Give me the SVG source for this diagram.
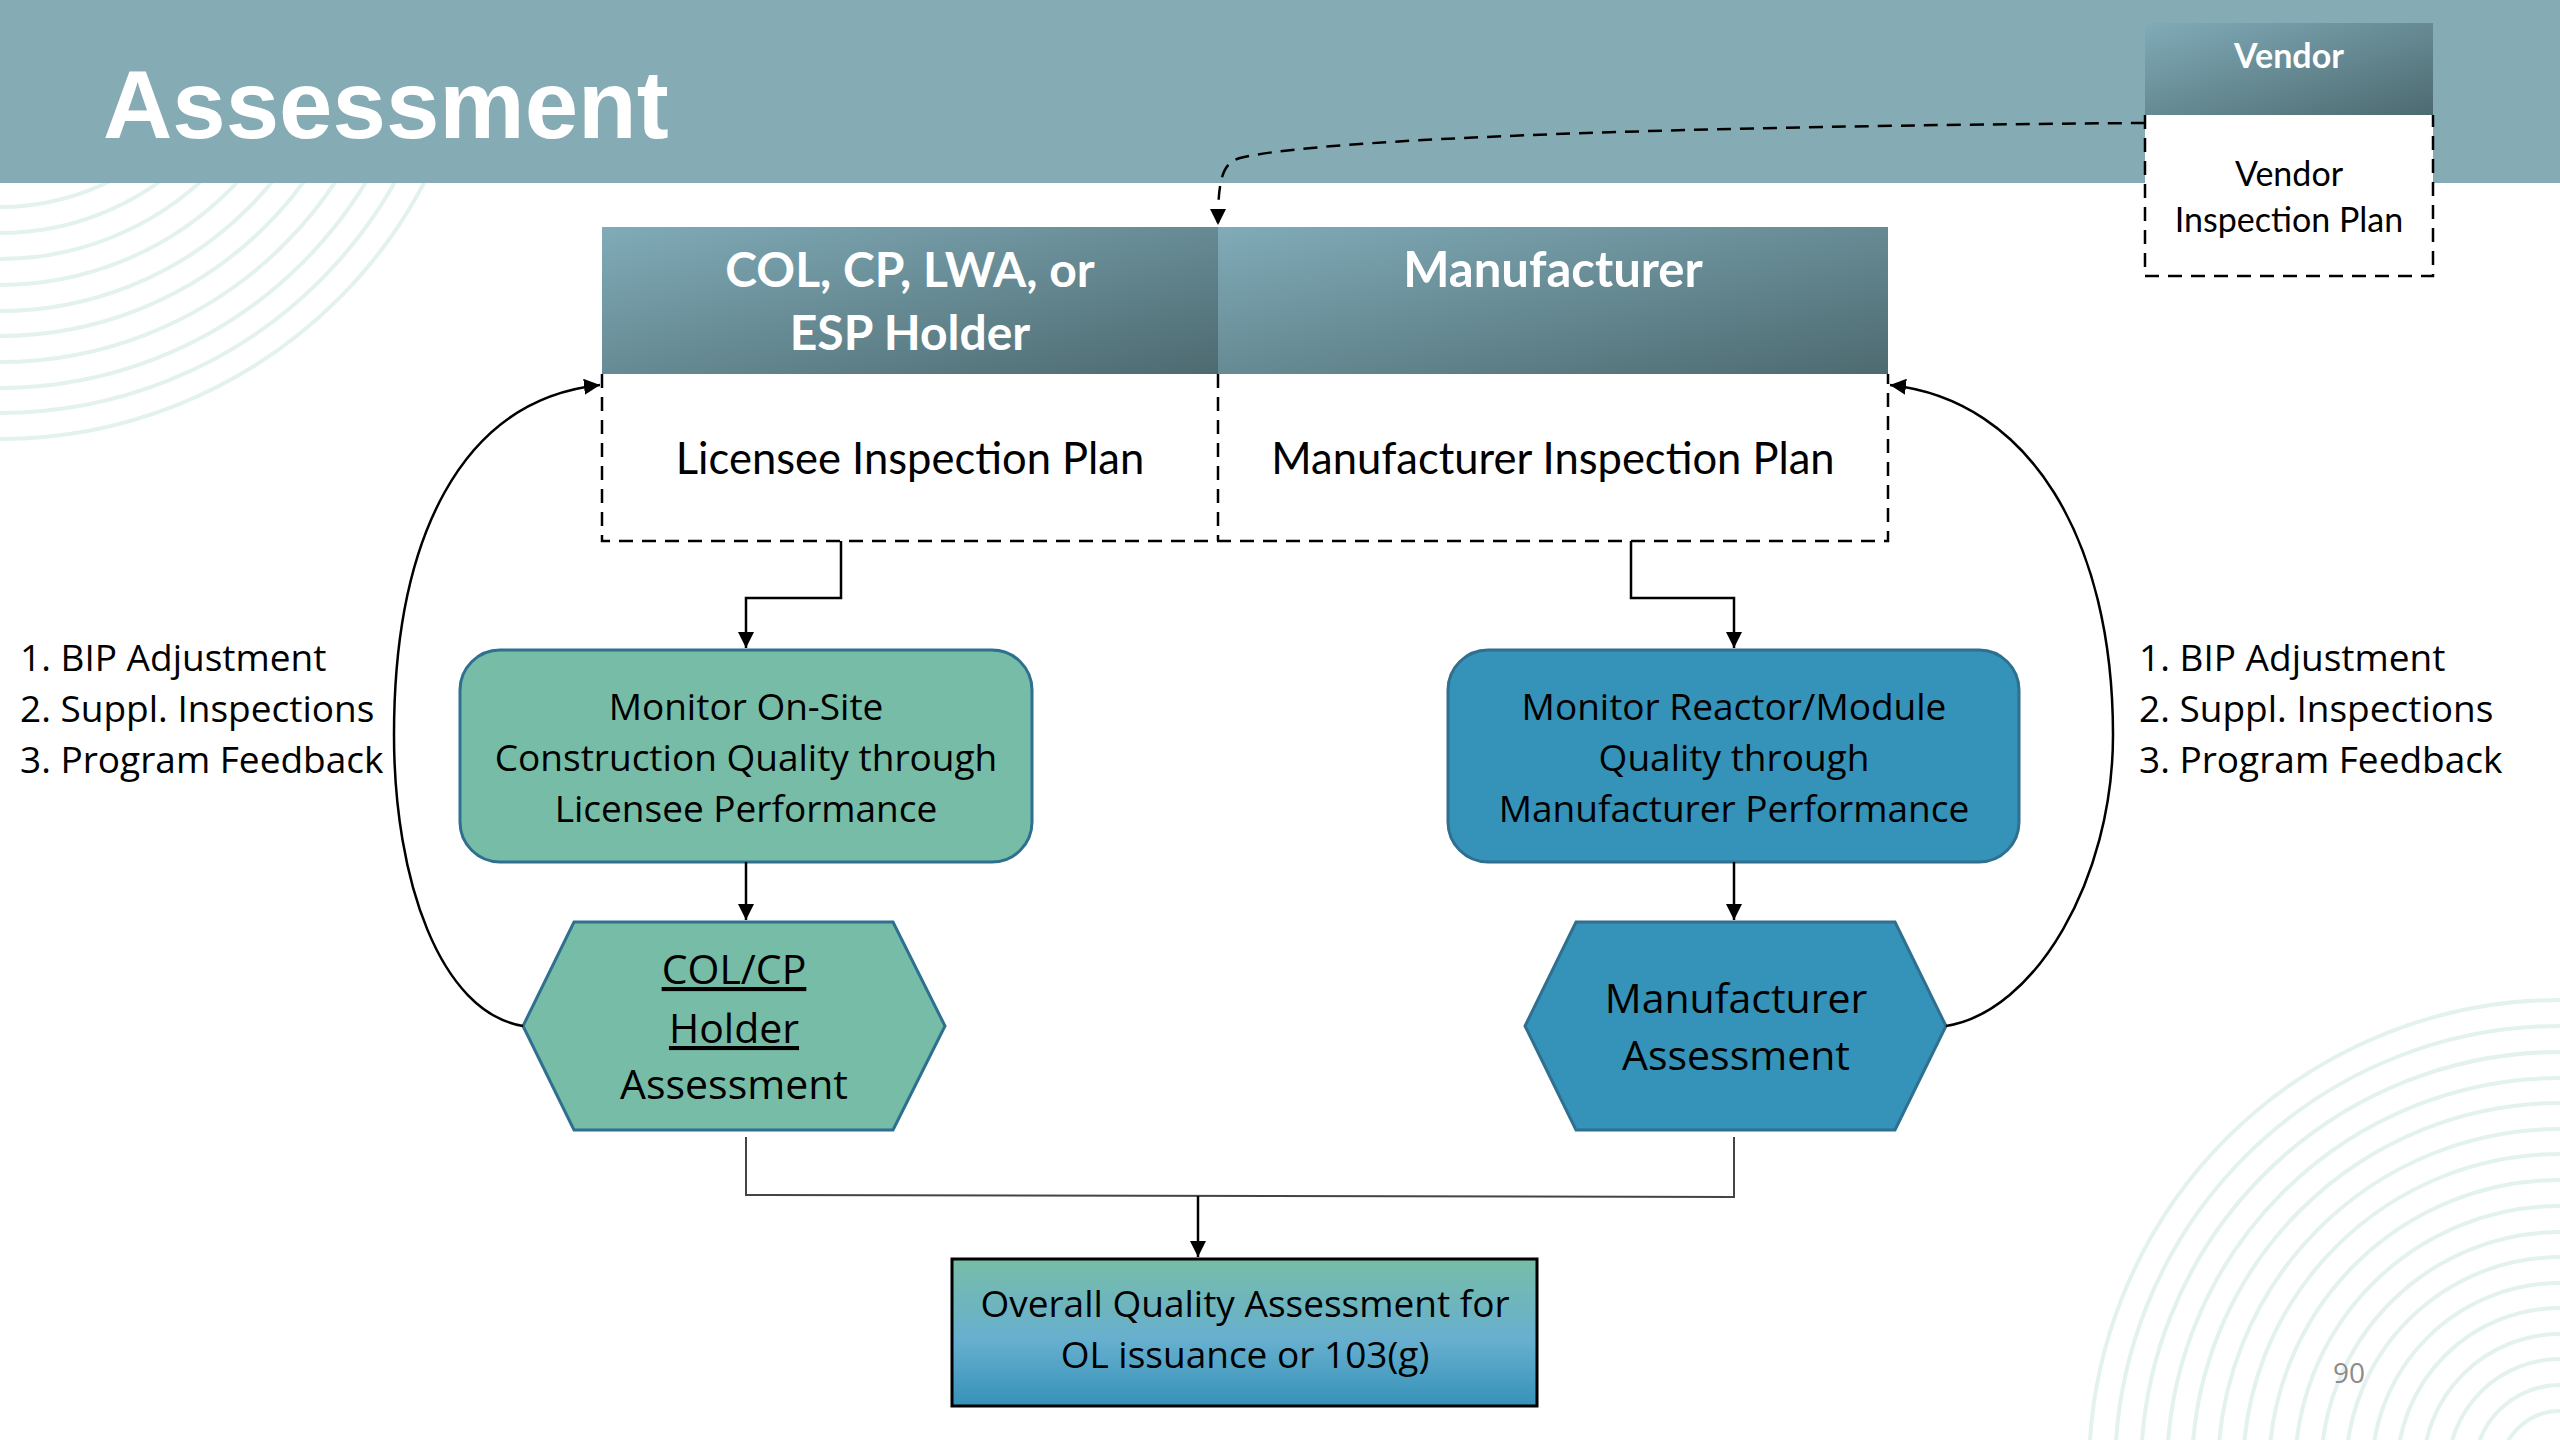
<svg xmlns="http://www.w3.org/2000/svg" width="2560" height="1440" viewBox="0 0 2560 1440">
<defs>
<style>
.arc{fill:none;stroke:#e3f2ee;stroke-width:4}
.hdr{font-family:Lato,"Open Sans",sans-serif;font-weight:700;fill:#ffffff;text-anchor:middle}
.plan{font-family:Lato,"Open Sans",sans-serif;fill:#000;text-anchor:middle}
.body{font-family:"Open Sans","Noto Sans",sans-serif;fill:#000}
.c{text-anchor:middle}
.dash{fill:none;stroke:#000;stroke-width:2.5;stroke-dasharray:14 9}
.conn{fill:none;stroke:#000;stroke-width:2.5}
.merge{fill:none;stroke:#444;stroke-width:2}
.green{fill:#76bca6;stroke:#2f6f8f;stroke-width:3}
.blue{fill:#3592b8;stroke:#2f6f8f;stroke-width:3}
</style>
<linearGradient id="hg" x1="0" y1="0" x2="1" y2="1">
<stop offset="0" stop-color="#80abb8"/>
<stop offset="1" stop-color="#4d6a70"/>
</linearGradient>
<linearGradient id="og" x1="0" y1="0" x2="0" y2="1">
<stop offset="0" stop-color="#77bda8"/>
<stop offset="0.55" stop-color="#67afcf"/>
<stop offset="1" stop-color="#3592b8"/>
</linearGradient>
<marker id="ah" viewBox="0 0 10 10" refX="10" refY="5" markerWidth="16" markerHeight="16" markerUnits="userSpaceOnUse" orient="auto">
<path d="M0,0 L10,5 L0,10 z" fill="#000"/>
</marker>
</defs>
<rect x="0" y="0" width="2560" height="1440" fill="#ffffff"/>
<g id="background-arcs">
<circle class="arc" cx="0" cy="-40" r="247"/>
<circle class="arc" cx="0" cy="-40" r="273"/>
<circle class="arc" cx="0" cy="-40" r="299"/>
<circle class="arc" cx="0" cy="-40" r="325"/>
<circle class="arc" cx="0" cy="-40" r="351"/>
<circle class="arc" cx="0" cy="-40" r="376"/>
<circle class="arc" cx="0" cy="-40" r="402"/>
<circle class="arc" cx="0" cy="-40" r="428"/>
<circle class="arc" cx="0" cy="-40" r="453"/>
<circle class="arc" cx="0" cy="-40" r="479"/>
<circle class="arc" cx="2560" cy="1471" r="471"/>
<circle class="arc" cx="2560" cy="1471" r="445"/>
<circle class="arc" cx="2560" cy="1471" r="419"/>
<circle class="arc" cx="2560" cy="1471" r="393"/>
<circle class="arc" cx="2560" cy="1471" r="368"/>
<circle class="arc" cx="2560" cy="1471" r="342"/>
<circle class="arc" cx="2560" cy="1471" r="317"/>
<circle class="arc" cx="2560" cy="1471" r="291"/>
<circle class="arc" cx="2560" cy="1471" r="265"/>
<circle class="arc" cx="2560" cy="1471" r="239"/>
<circle class="arc" cx="2560" cy="1471" r="214"/>
<circle class="arc" cx="2560" cy="1471" r="188"/>
<circle class="arc" cx="2560" cy="1471" r="163"/>
<circle class="arc" cx="2560" cy="1471" r="137"/>
<circle class="arc" cx="2560" cy="1471" r="112"/>
<circle class="arc" cx="2560" cy="1471" r="86"/>
<circle class="arc" cx="2560" cy="1471" r="60"/>
</g>
<rect id="title-band" x="0" y="0" width="2560" height="183" fill="#85abb5"/>
<text x="103" y="138" font-family="'Liberation Sans',Arial,sans-serif" font-weight="700" font-size="96" fill="#ffffff">Assessment</text>

<g id="node-licensee">
<rect x="602" y="227" width="616" height="147" fill="url(#hg)"/>
<text class="hdr" x="910" y="287" font-size="48">COL, CP, LWA, or</text>
<text class="hdr" x="910" y="350" font-size="48">ESP Holder</text>
<text class="plan" x="910" y="474" font-size="43.5">Licensee Inspection Plan</text>
</g>
<g id="node-manufacturer">
<rect x="1218" y="227" width="670" height="147" fill="url(#hg)"/>
<text class="hdr" x="1553" y="287" font-size="49">Manufacturer</text>
<text class="plan" x="1553" y="474" font-size="43.5">Manufacturer Inspection Plan</text>
</g>
<path id="plan-outline" class="dash" d="M602 374 V541 H1888 V374 M1218 374 V541"/>

<g id="node-vendor">
<rect x="2145" y="23" width="288" height="92" fill="url(#hg)"/>
<rect x="2145" y="115" width="288" height="161" fill="#ffffff"/>
<path class="dash" d="M2145 115 V276 H2433 V115"/>
<text class="hdr" x="2289" y="68" font-size="34">Vendor</text>
<text class="plan" x="2289" y="186" font-size="34">Vendor</text>
<text class="plan" x="2289" y="232" font-size="34">Inspection Plan</text>
</g>

<g id="node-monitor-onsite">
<rect class="green" x="460" y="650" width="572" height="212" rx="40" ry="40"/>
<text class="body c" x="746" y="720" font-size="37">Monitor On-Site</text>
<text class="body c" x="746" y="771" font-size="37">Construction Quality through</text>
<text class="body c" x="746" y="822" font-size="37">Licensee Performance</text>
</g>
<g id="node-monitor-reactor">
<rect class="blue" x="1448" y="650" width="571" height="212" rx="40" ry="40"/>
<text class="body c" x="1734" y="720" font-size="37">Monitor Reactor/Module</text>
<text class="body c" x="1734" y="771" font-size="37">Quality through</text>
<text class="body c" x="1734" y="822" font-size="37">Manufacturer Performance</text>
</g>
<g id="node-colcp-assessment">
<polygon class="green" points="574,922 893,922 945,1026 893,1130 574,1130 523,1026"/>
<text class="body c" x="734" y="984" font-size="41" text-decoration="underline">COL/CP</text>
<text class="body c" x="734" y="1043" font-size="41" text-decoration="underline">Holder</text>
<text class="body c" x="734" y="1099" font-size="41">Assessment</text>
</g>
<g id="node-manufacturer-assessment">
<polygon class="blue" points="1576,922 1895,922 1946,1026 1895,1130 1576,1130 1525,1026"/>
<text class="body c" x="1736" y="1013" font-size="41">Manufacturer</text>
<text class="body c" x="1736" y="1070" font-size="41">Assessment</text>
</g>
<g id="node-overall">
<rect x="952" y="1259" width="585" height="147" fill="url(#og)" stroke="#000" stroke-width="3"/>
<text class="body c" x="1245" y="1317" font-size="37">Overall Quality Assessment for</text>
<text class="body c" x="1245" y="1368" font-size="37">OL issuance or 103(g)</text>
</g>
<g id="label-left">
<text class="body" x="20" y="671" font-size="37">1. BIP Adjustment</text>
<text class="body" x="20" y="722" font-size="37">2. Suppl. Inspections</text>
<text class="body" x="20" y="773" font-size="37">3. Program Feedback</text>
</g>
<g id="label-right">
<text class="body" x="2139" y="671" font-size="37">1. BIP Adjustment</text>
<text class="body" x="2139" y="722" font-size="37">2. Suppl. Inspections</text>
<text class="body" x="2139" y="773" font-size="37">3. Program Feedback</text>
</g>
<text id="page-number" x="2333" y="1383" font-family="'Open Sans',sans-serif" font-size="28" fill="#8c8c8c">90</text>

<g id="connectors">
<path class="dash" d="M2145 123 C1700 126, 1320 138, 1240 158 C1222 163, 1218 180, 1218 225" marker-end="url(#ah)"/>
<path class="conn" d="M841 541 V598 H746 V648" marker-end="url(#ah)"/>
<path class="conn" d="M1631 541 V598 H1734 V648" marker-end="url(#ah)"/>
<path class="conn" d="M746 862 V920" marker-end="url(#ah)"/>
<path class="conn" d="M1734 862 V920" marker-end="url(#ah)"/>
<path class="conn" d="M523 1026 C440 1012, 394 880, 394 735 C394 540, 460 400, 600 385" marker-end="url(#ah)"/>
<path class="conn" d="M1946 1026 C2035 1012, 2113 880, 2113 735 C2113 540, 2030 400, 1890 385" marker-end="url(#ah)"/>
<path class="merge" d="M746 1137 V1195 L1734 1197 V1137"/>
<path class="conn" d="M1198 1196 V1257" marker-end="url(#ah)"/>
</g>
</svg>
